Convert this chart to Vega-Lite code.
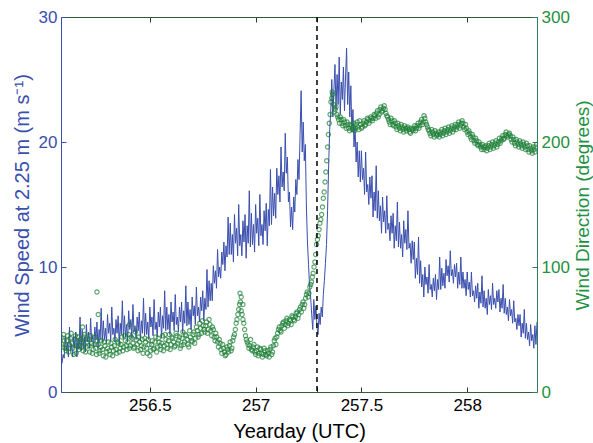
{
"$schema": "https://vega.github.io/schema/vega-lite/v6.json",
"autosize": "none",
"width": 476,
"height": 375,
"padding": {"left": 61, "top": 17, "right": 56, "bottom": 51},
"background": "white",
"config": {"font": "Liberation Sans", "view": {"stroke": null}, "axis": {"grid": false, "labelFont": "Liberation Sans", "titleFont": "Liberation Sans", "titleFontWeight": "normal"}},
"datasets": {
"speed": [
{"day":256.080,"speed":2.4},{"day":256.085,"speed":2.3},{"day":256.090,"speed":3.0},{"day":256.095,"speed":2.7},{"day":256.100,"speed":4.5},{"day":256.105,"speed":3.3},{"day":256.110,"speed":4.0},{"day":256.115,"speed":2.8},{"day":256.120,"speed":5.2},{"day":256.125,"speed":3.3},{"day":256.130,"speed":3.8},{"day":256.135,"speed":2.8},{"day":256.140,"speed":4.5},{"day":256.145,"speed":3.5},{"day":256.150,"speed":4.8},{"day":256.155,"speed":2.8},{"day":256.160,"speed":4.3},{"day":256.165,"speed":3.4},{"day":256.170,"speed":6.0},{"day":256.175,"speed":3.3},
{"day":256.180,"speed":5.0},{"day":256.185,"speed":3.5},{"day":256.190,"speed":4.4},{"day":256.195,"speed":3.2},{"day":256.200,"speed":5.4},{"day":256.205,"speed":4.0},{"day":256.210,"speed":4.8},{"day":256.215,"speed":3.5},{"day":256.220,"speed":5.9},{"day":256.225,"speed":4.0},{"day":256.230,"speed":4.5},{"day":256.235,"speed":3.6},{"day":256.240,"speed":5.2},{"day":256.245,"speed":4.2},{"day":256.250,"speed":5.6},{"day":256.255,"speed":3.5},{"day":256.260,"speed":5.0},{"day":256.265,"speed":4.2},{"day":256.270,"speed":6.7},{"day":256.275,"speed":4.0},
{"day":256.280,"speed":5.7},{"day":256.285,"speed":4.2},{"day":256.290,"speed":5.1},{"day":256.295,"speed":3.9},{"day":256.300,"speed":6.2},{"day":256.305,"speed":4.7},{"day":256.310,"speed":5.5},{"day":256.315,"speed":4.1},{"day":256.320,"speed":6.8},{"day":256.325,"speed":4.6},{"day":256.330,"speed":5.1},{"day":256.335,"speed":4.0},{"day":256.340,"speed":5.8},{"day":256.345,"speed":4.7},{"day":256.350,"speed":6.1},{"day":256.355,"speed":3.8},{"day":256.360,"speed":5.5},{"day":256.365,"speed":4.6},{"day":256.370,"speed":7.3},{"day":256.375,"speed":4.3},
{"day":256.380,"speed":6.1},{"day":256.385,"speed":4.4},{"day":256.390,"speed":5.4},{"day":256.395,"speed":4.0},{"day":256.400,"speed":6.5},{"day":256.405,"speed":5.0},{"day":256.410,"speed":5.8},{"day":256.415,"speed":4.3},{"day":256.420,"speed":7.0},{"day":256.425,"speed":4.8},{"day":256.430,"speed":5.3},{"day":256.435,"speed":4.2},{"day":256.440,"speed":6.0},{"day":256.445,"speed":4.9},{"day":256.450,"speed":6.4},{"day":256.455,"speed":4.1},{"day":256.460,"speed":5.7},{"day":256.465,"speed":4.7},{"day":256.470,"speed":7.5},{"day":256.475,"speed":4.5},
{"day":256.480,"speed":6.3},{"day":256.485,"speed":4.6},{"day":256.490,"speed":5.6},{"day":256.495,"speed":4.2},{"day":256.500,"speed":6.8},{"day":256.505,"speed":5.2},{"day":256.510,"speed":6.0},{"day":256.515,"speed":4.5},{"day":256.520,"speed":7.4},{"day":256.525,"speed":5.0},{"day":256.530,"speed":5.6},{"day":256.535,"speed":4.4},{"day":256.540,"speed":6.4},{"day":256.545,"speed":5.2},{"day":256.550,"speed":6.8},{"day":256.555,"speed":4.3},{"day":256.560,"speed":6.1},{"day":256.565,"speed":5.1},{"day":256.570,"speed":8.1},{"day":256.575,"speed":4.9},
{"day":256.580,"speed":6.8},{"day":256.585,"speed":5.0},{"day":256.590,"speed":6.2},{"day":256.595,"speed":4.6},{"day":256.600,"speed":7.2},{"day":256.605,"speed":5.6},{"day":256.610,"speed":6.4},{"day":256.615,"speed":4.9},{"day":256.620,"speed":7.8},{"day":256.625,"speed":5.4},{"day":256.630,"speed":6.0},{"day":256.635,"speed":4.8},{"day":256.640,"speed":6.8},{"day":256.645,"speed":5.6},{"day":256.650,"speed":7.2},{"day":256.655,"speed":4.7},{"day":256.660,"speed":6.5},{"day":256.665,"speed":5.5},{"day":256.670,"speed":8.5},{"day":256.675,"speed":5.3},
{"day":256.680,"speed":7.2},{"day":256.685,"speed":5.4},{"day":256.690,"speed":6.6},{"day":256.695,"speed":5.0},{"day":256.700,"speed":7.6},{"day":256.705,"speed":6.1},{"day":256.710,"speed":6.9},{"day":256.715,"speed":5.4},{"day":256.720,"speed":8.4},{"day":256.725,"speed":6.1},{"day":256.730,"speed":6.8},{"day":256.735,"speed":5.6},{"day":256.740,"speed":7.6},{"day":256.745,"speed":6.5},{"day":256.750,"speed":8.1},{"day":256.755,"speed":5.7},{"day":256.760,"speed":7.5},{"day":256.765,"speed":6.6},{"day":256.770,"speed":9.8},{"day":256.775,"speed":6.8},
{"day":256.780,"speed":8.9},{"day":256.785,"speed":7.3},{"day":256.790,"speed":8.7},{"day":256.795,"speed":7.3},{"day":256.800,"speed":10.1},{"day":256.805,"speed":8.7},{"day":256.810,"speed":9.7},{"day":256.815,"speed":8.3},{"day":256.820,"speed":11.4},{"day":256.825,"speed":9.2},{"day":256.830,"speed":10.0},{"day":256.835,"speed":9.1},{"day":256.840,"speed":11.2},{"day":256.845,"speed":10.2},{"day":256.850,"speed":12.0},{"day":256.855,"speed":9.7},{"day":256.860,"speed":11.7},{"day":256.865,"speed":10.8},{"day":256.870,"speed":14.0},{"day":256.875,"speed":11.0},
{"day":256.880,"speed":13.5},{"day":256.885,"speed":11.0},{"day":256.890,"speed":12.6},{"day":256.895,"speed":10.4},{"day":256.900,"speed":14.2},{"day":256.905,"speed":11.9},{"day":256.910,"speed":13.1},{"day":256.915,"speed":10.9},{"day":256.920,"speed":15.0},{"day":256.925,"speed":11.7},{"day":256.930,"speed":12.6},{"day":256.935,"speed":10.9},{"day":256.940,"speed":13.7},{"day":256.945,"speed":12.0},{"day":256.950,"speed":14.2},{"day":256.955,"speed":10.7},{"day":256.960,"speed":13.3},{"day":256.965,"speed":11.9},{"day":256.970,"speed":16.1},{"day":256.975,"speed":11.6},
{"day":256.980,"speed":14.3},{"day":256.985,"speed":11.8},{"day":256.990,"speed":13.4},{"day":256.995,"speed":11.2},{"day":257.000,"speed":15.0},{"day":257.005,"speed":12.7},{"day":257.010,"speed":13.9},{"day":257.015,"speed":11.7},{"day":257.020,"speed":15.8},{"day":257.025,"speed":12.5},{"day":257.030,"speed":13.4},{"day":257.035,"speed":11.8},{"day":257.040,"speed":14.5},{"day":257.045,"speed":12.9},{"day":257.050,"speed":15.1},{"day":257.055,"speed":11.7},{"day":257.060,"speed":14.6},{"day":257.065,"speed":13.3},{"day":257.070,"speed":17.8},{"day":257.075,"speed":13.4},
{"day":257.080,"speed":16.4},{"day":257.085,"speed":14.1},{"day":257.090,"speed":15.9},{"day":257.095,"speed":13.9},{"day":257.100,"speed":17.9},{"day":257.105,"speed":15.8},{"day":257.110,"speed":17.3},{"day":257.115,"speed":15.2},{"day":257.120,"speed":19.6},{"day":257.125,"speed":16.4},{"day":257.130,"speed":17.6},{"day":257.135,"speed":16.1},{"day":257.140,"speed":20.7},{"day":257.145,"speed":17.5},{"day":257.150,"speed":18.8},{"day":257.155,"speed":15.2},{"day":257.160,"speed":16.0},{"day":257.165,"speed":13.2},{"day":257.170,"speed":14.8},{"day":257.175,"speed":13.0},
{"day":257.180,"speed":15.6},{"day":257.185,"speed":14.4},{"day":257.190,"speed":17.0},{"day":257.195,"speed":15.8},{"day":257.200,"speed":18.6},{"day":257.205,"speed":17.0},{"day":257.210,"speed":20.5},{"day":257.215,"speed":24.1},{"day":257.220,"speed":19.2},{"day":257.225,"speed":21.6},{"day":257.230,"speed":18.5},{"day":257.235,"speed":19.8},{"day":257.240,"speed":14.8},{"day":257.245,"speed":12.0},{"day":257.250,"speed":10.2},{"day":257.255,"speed":8.5},{"day":257.260,"speed":7.6},{"day":257.265,"speed":6.2},{"day":257.270,"speed":5.0},{"day":257.275,"speed":7.4},
{"day":257.280,"speed":5.8},{"day":257.285,"speed":6.9},{"day":257.290,"speed":5.2},{"day":257.295,"speed":4.6},{"day":257.300,"speed":6.3},{"day":257.305,"speed":5.4},{"day":257.310,"speed":6.8},{"day":257.315,"speed":6.0},{"day":257.320,"speed":7.8},{"day":257.325,"speed":8.9},{"day":257.330,"speed":10.3},{"day":257.335,"speed":11.8},{"day":257.340,"speed":14.5},{"day":257.345,"speed":18.0},{"day":257.350,"speed":21.0},{"day":257.355,"speed":22.4},{"day":257.360,"speed":25.0},{"day":257.365,"speed":22.0},{"day":257.370,"speed":24.2},{"day":257.375,"speed":26.2},
{"day":257.380,"speed":22.6},{"day":257.385,"speed":25.4},{"day":257.390,"speed":23.0},{"day":257.395,"speed":26.8},{"day":257.400,"speed":22.2},{"day":257.405,"speed":24.8},{"day":257.410,"speed":23.4},{"day":257.415,"speed":26.0},{"day":257.420,"speed":22.5},{"day":257.425,"speed":25.2},{"day":257.430,"speed":27.5},{"day":257.435,"speed":23.0},{"day":257.440,"speed":25.6},{"day":257.445,"speed":22.0},{"day":257.450,"speed":24.5},{"day":257.455,"speed":20.8},{"day":257.460,"speed":22.6},{"day":257.465,"speed":19.6},{"day":257.470,"speed":21.2},{"day":257.475,"speed":18.4},
{"day":257.480,"speed":20.0},{"day":257.485,"speed":17.2},{"day":257.490,"speed":19.3},{"day":257.495,"speed":16.8},{"day":257.500,"speed":19.3},{"day":257.505,"speed":17.0},{"day":257.510,"speed":17.9},{"day":257.515,"speed":15.8},{"day":257.520,"speed":19.2},{"day":257.525,"speed":16.0},{"day":257.530,"speed":16.6},{"day":257.535,"speed":15.0},{"day":257.540,"speed":17.2},{"day":257.545,"speed":15.5},{"day":257.550,"speed":17.3},{"day":257.555,"speed":14.0},{"day":257.560,"speed":16.0},{"day":257.565,"speed":14.5},{"day":257.570,"speed":18.1},{"day":257.575,"speed":13.9},
{"day":257.580,"speed":16.1},{"day":257.585,"speed":13.7},{"day":257.590,"speed":14.9},{"day":257.595,"speed":12.7},{"day":257.600,"speed":15.6},{"day":257.605,"speed":13.6},{"day":257.610,"speed":14.5},{"day":257.615,"speed":12.7},{"day":257.620,"speed":15.7},{"day":257.625,"speed":13.0},{"day":257.630,"speed":13.5},{"day":257.635,"speed":12.1},{"day":257.640,"speed":14.1},{"day":257.645,"speed":12.7},{"day":257.650,"speed":14.3},{"day":257.655,"speed":11.5},{"day":257.660,"speed":13.3},{"day":257.665,"speed":12.1},{"day":257.670,"speed":15.2},{"day":257.675,"speed":11.6},
{"day":257.680,"speed":13.6},{"day":257.685,"speed":11.5},{"day":257.690,"speed":12.6},{"day":257.695,"speed":10.8},{"day":257.700,"speed":13.7},{"day":257.705,"speed":11.9},{"day":257.710,"speed":13.0},{"day":257.715,"speed":11.4},{"day":257.720,"speed":14.5},{"day":257.725,"speed":11.5},{"day":257.730,"speed":11.9},{"day":257.735,"speed":10.3},{"day":257.740,"speed":12.1},{"day":257.745,"speed":10.6},{"day":257.750,"speed":12.0},{"day":257.755,"speed":9.1},{"day":257.760,"speed":10.7},{"day":257.765,"speed":9.4},{"day":257.770,"speed":12.4},{"day":257.775,"speed":8.7},
{"day":257.780,"speed":10.5},{"day":257.785,"speed":8.4},{"day":257.790,"speed":9.4},{"day":257.795,"speed":7.6},{"day":257.800,"speed":10.0},{"day":257.805,"speed":8.6},{"day":257.810,"speed":9.2},{"day":257.815,"speed":7.9},{"day":257.820,"speed":10.2},{"day":257.825,"speed":8.2},{"day":257.830,"speed":8.6},{"day":257.835,"speed":7.6},{"day":257.840,"speed":9.1},{"day":257.845,"speed":8.1},{"day":257.850,"speed":9.4},{"day":257.855,"speed":7.4},{"day":257.860,"speed":9.0},{"day":257.865,"speed":8.2},{"day":257.870,"speed":10.8},{"day":257.875,"speed":8.2},
{"day":257.880,"speed":9.9},{"day":257.885,"speed":8.5},{"day":257.890,"speed":9.5},{"day":257.895,"speed":8.3},{"day":257.900,"speed":10.6},{"day":257.905,"speed":9.3},{"day":257.910,"speed":10.1},{"day":257.915,"speed":8.8},{"day":257.920,"speed":11.3},{"day":257.925,"speed":9.3},{"day":257.930,"speed":9.8},{"day":257.935,"speed":8.7},{"day":257.940,"speed":10.2},{"day":257.945,"speed":9.2},{"day":257.950,"speed":10.3},{"day":257.955,"speed":8.3},{"day":257.960,"speed":9.6},{"day":257.965,"speed":8.6},{"day":257.970,"speed":10.8},{"day":257.975,"speed":8.3},
{"day":257.980,"speed":9.6},{"day":257.985,"speed":8.3},{"day":257.990,"speed":9.0},{"day":257.995,"speed":7.7},{"day":258.000,"speed":9.6},{"day":258.005,"speed":8.2},{"day":258.010,"speed":8.8},{"day":258.015,"speed":7.6},{"day":258.020,"speed":9.6},{"day":258.025,"speed":7.7},{"day":258.030,"speed":8.1},{"day":258.035,"speed":7.2},{"day":258.040,"speed":8.5},{"day":258.045,"speed":7.5},{"day":258.050,"speed":8.7},{"day":258.055,"speed":6.7},{"day":258.060,"speed":8.0},{"day":258.065,"speed":7.1},{"day":258.070,"speed":9.3},{"day":258.075,"speed":6.8},
{"day":258.080,"speed":8.1},{"day":258.085,"speed":6.7},{"day":258.090,"speed":7.5},{"day":258.095,"speed":6.2},{"day":258.100,"speed":8.2},{"day":258.105,"speed":7.0},{"day":258.110,"speed":7.7},{"day":258.115,"speed":6.6},{"day":258.120,"speed":8.7},{"day":258.125,"speed":7.0},{"day":258.130,"speed":7.5},{"day":258.135,"speed":6.7},{"day":258.140,"speed":8.1},{"day":258.145,"speed":7.2},{"day":258.150,"speed":8.2},{"day":258.155,"speed":6.4},{"day":258.160,"speed":7.5},{"day":258.165,"speed":6.7},{"day":258.170,"speed":8.6},{"day":258.175,"speed":6.3},
{"day":258.180,"speed":7.5},{"day":258.185,"speed":6.2},{"day":258.190,"speed":6.8},{"day":258.195,"speed":5.7},{"day":258.200,"speed":7.4},{"day":258.205,"speed":6.1},{"day":258.210,"speed":6.6},{"day":258.215,"speed":5.5},{"day":258.220,"speed":7.3},{"day":258.225,"speed":5.6},{"day":258.230,"speed":5.9},{"day":258.235,"speed":5.0},{"day":258.240,"speed":6.2},{"day":258.245,"speed":5.3},{"day":258.250,"speed":6.2},{"day":258.255,"speed":4.4},{"day":258.260,"speed":5.5},{"day":258.265,"speed":4.7},{"day":258.270,"speed":6.6},{"day":258.275,"speed":4.3},
{"day":258.280,"speed":5.5},{"day":258.285,"speed":4.2},{"day":258.290,"speed":4.8},{"day":258.295,"speed":3.7},{"day":258.300,"speed":5.4},{"day":258.305,"speed":4.1},{"day":258.310,"speed":4.6},{"day":258.315,"speed":3.5},{"day":258.320,"speed":5.3},{"day":258.325,"speed":3.8},{"day":258.330,"speed":5.6}
],
"direction": [
{"day":256.080,"dir":44},{"day":256.088,"dir":36},{"day":256.096,"dir":41},{"day":256.104,"dir":33},{"day":256.112,"dir":45},{"day":256.120,"dir":38},{"day":256.128,"dir":47},{"day":256.136,"dir":35},{"day":256.144,"dir":42},{"day":256.152,"dir":31},{"day":256.160,"dir":44},{"day":256.168,"dir":37},{"day":256.176,"dir":40},{"day":256.184,"dir":33},{"day":256.192,"dir":46},{"day":256.200,"dir":36},{"day":256.208,"dir":42},{"day":256.216,"dir":32},{"day":256.224,"dir":39},{"day":256.232,"dir":34},{"day":256.240,"dir":44},{"day":256.248,"dir":30},{"day":256.256,"dir":38},{"day":256.264,"dir":33},{"day":256.272,"dir":41},{"day":256.280,"dir":29},{"day":256.288,"dir":37},{"day":256.296,"dir":32},{"day":256.304,"dir":40},{"day":256.312,"dir":30},{"day":256.320,"dir":36},{"day":256.328,"dir":33},{"day":256.336,"dir":42},{"day":256.344,"dir":31},{"day":256.352,"dir":39},{"day":256.360,"dir":35},{"day":256.368,"dir":44},{"day":256.376,"dir":36},{"day":256.384,"dir":41},{"day":256.392,"dir":34},{"day":256.400,"dir":46},{"day":256.408,"dir":37},{"day":256.416,"dir":43},{"day":256.424,"dir":35},{"day":256.432,"dir":48},{"day":256.440,"dir":38},{"day":256.448,"dir":44},{"day":256.456,"dir":34},{"day":256.464,"dir":42},{"day":256.472,"dir":36},{"day":256.480,"dir":40},{"day":256.488,"dir":31},{"day":256.496,"dir":38},{"day":256.504,"dir":33},{"day":256.512,"dir":41},{"day":256.520,"dir":35},{"day":256.528,"dir":44},{"day":256.536,"dir":36},{"day":256.544,"dir":40},{"day":256.552,"dir":34},{"day":256.560,"dir":45},{"day":256.568,"dir":37},{"day":256.576,"dir":42},{"day":256.584,"dir":35},{"day":256.592,"dir":46},{"day":256.600,"dir":38},{"day":256.608,"dir":43},{"day":256.616,"dir":36},{"day":256.624,"dir":47},{"day":256.632,"dir":39},{"day":256.640,"dir":44},{"day":256.648,"dir":37},{"day":256.656,"dir":48},{"day":256.664,"dir":40},{"day":256.672,"dir":45},{"day":256.680,"dir":38},{"day":256.688,"dir":49},{"day":256.696,"dir":41},{"day":256.704,"dir":46},{"day":256.712,"dir":39},{"day":256.720,"dir":52},{"day":256.728,"dir":44},{"day":256.736,"dir":55},{"day":256.744,"dir":47},{"day":256.752,"dir":53},{"day":256.760,"dir":48},{"day":256.768,"dir":56},{"day":256.776,"dir":50},{"day":256.784,"dir":54},{"day":256.792,"dir":45},{"day":256.800,"dir":50},{"day":256.808,"dir":41},{"day":256.816,"dir":44},{"day":256.824,"dir":36},{"day":256.832,"dir":39},{"day":256.840,"dir":31},{"day":256.848,"dir":35},{"day":256.856,"dir":29},{"day":256.864,"dir":36},{"day":256.872,"dir":32},{"day":256.880,"dir":40},{"day":256.888,"dir":35},{"day":256.896,"dir":44},{"day":256.904,"dir":50},{"day":256.912,"dir":58},{"day":256.920,"dir":66},{"day":256.928,"dir":72},{"day":256.936,"dir":62},{"day":256.944,"dir":55},{"day":256.952,"dir":45},{"day":256.960,"dir":40},{"day":256.968,"dir":35},{"day":256.976,"dir":42},{"day":256.984,"dir":33},{"day":256.992,"dir":38},{"day":257.000,"dir":30},{"day":257.008,"dir":36},{"day":257.016,"dir":31},{"day":257.024,"dir":34},{"day":257.032,"dir":28},{"day":257.040,"dir":35},{"day":257.048,"dir":30},{"day":257.056,"dir":33},{"day":257.064,"dir":28},{"day":257.072,"dir":36},{"day":257.080,"dir":32},{"day":257.088,"dir":41},{"day":257.096,"dir":38},{"day":257.104,"dir":47},{"day":257.112,"dir":52},{"day":257.120,"dir":48},{"day":257.128,"dir":55},{"day":257.136,"dir":51},{"day":257.144,"dir":57},{"day":257.152,"dir":53},{"day":257.160,"dir":58},{"day":257.168,"dir":54},{"day":257.176,"dir":60},{"day":257.184,"dir":57},{"day":257.192,"dir":63},{"day":257.200,"dir":59},{"day":257.208,"dir":66},{"day":257.216,"dir":64},{"day":257.224,"dir":72},{"day":257.232,"dir":70},{"day":257.240,"dir":78},{"day":257.248,"dir":76},{"day":257.256,"dir":84},{"day":257.264,"dir":88},{"day":257.272,"dir":95},{"day":257.280,"dir":104},{"day":257.288,"dir":118},{"day":257.296,"dir":125},{"day":257.304,"dir":135},{"day":257.312,"dir":142},{"day":257.320,"dir":155},{"day":257.328,"dir":168},{"day":257.336,"dir":185},{"day":257.344,"dir":206},{"day":257.352,"dir":222},{"day":257.360,"dir":235},{"day":257.368,"dir":230},{"day":257.376,"dir":226},{"day":257.384,"dir":222},{"day":257.392,"dir":218},{"day":257.400,"dir":220},{"day":257.408,"dir":215},{"day":257.416,"dir":218},{"day":257.424,"dir":213},{"day":257.432,"dir":216},{"day":257.440,"dir":211},{"day":257.448,"dir":214},{"day":257.456,"dir":210},{"day":257.464,"dir":215},{"day":257.472,"dir":211},{"day":257.480,"dir":216},{"day":257.488,"dir":210},{"day":257.496,"dir":214},{"day":257.504,"dir":212},{"day":257.512,"dir":217},{"day":257.520,"dir":214},{"day":257.528,"dir":219},{"day":257.536,"dir":215},{"day":257.544,"dir":220},{"day":257.552,"dir":217},{"day":257.560,"dir":222},{"day":257.568,"dir":219},{"day":257.576,"dir":225},{"day":257.584,"dir":222},{"day":257.592,"dir":228},{"day":257.600,"dir":225},{"day":257.608,"dir":229},{"day":257.616,"dir":223},{"day":257.624,"dir":220},{"day":257.632,"dir":216},{"day":257.640,"dir":219},{"day":257.648,"dir":214},{"day":257.656,"dir":217},{"day":257.664,"dir":212},{"day":257.672,"dir":215},{"day":257.680,"dir":211},{"day":257.688,"dir":214},{"day":257.696,"dir":210},{"day":257.704,"dir":213},{"day":257.712,"dir":209},{"day":257.720,"dir":212},{"day":257.728,"dir":208},{"day":257.736,"dir":211},{"day":257.744,"dir":209},{"day":257.752,"dir":213},{"day":257.760,"dir":211},{"day":257.768,"dir":215},{"day":257.776,"dir":213},{"day":257.784,"dir":218},{"day":257.792,"dir":216},{"day":257.800,"dir":219},{"day":257.808,"dir":214},{"day":257.816,"dir":210},{"day":257.824,"dir":207},{"day":257.832,"dir":210},{"day":257.840,"dir":206},{"day":257.848,"dir":209},{"day":257.856,"dir":205},{"day":257.864,"dir":208},{"day":257.872,"dir":206},{"day":257.880,"dir":210},{"day":257.888,"dir":207},{"day":257.896,"dir":211},{"day":257.904,"dir":208},{"day":257.912,"dir":212},{"day":257.920,"dir":209},{"day":257.928,"dir":213},{"day":257.936,"dir":210},{"day":257.944,"dir":214},{"day":257.952,"dir":212},{"day":257.960,"dir":216},{"day":257.968,"dir":213},{"day":257.976,"dir":217},{"day":257.984,"dir":212},{"day":257.992,"dir":214},{"day":258.000,"dir":208},{"day":258.008,"dir":209},{"day":258.016,"dir":204},{"day":258.024,"dir":206},{"day":258.032,"dir":201},{"day":258.040,"dir":203},{"day":258.048,"dir":198},{"day":258.056,"dir":200},{"day":258.064,"dir":196},{"day":258.072,"dir":198},{"day":258.080,"dir":194},{"day":258.088,"dir":197},{"day":258.096,"dir":195},{"day":258.104,"dir":199},{"day":258.112,"dir":196},{"day":258.120,"dir":200},{"day":258.128,"dir":197},{"day":258.136,"dir":201},{"day":258.144,"dir":198},{"day":258.152,"dir":203},{"day":258.160,"dir":201},{"day":258.168,"dir":205},{"day":258.176,"dir":203},{"day":258.184,"dir":208},{"day":258.192,"dir":204},{"day":258.200,"dir":207},{"day":258.208,"dir":202},{"day":258.216,"dir":204},{"day":258.224,"dir":199},{"day":258.232,"dir":202},{"day":258.240,"dir":198},{"day":258.248,"dir":201},{"day":258.256,"dir":197},{"day":258.264,"dir":200},{"day":258.272,"dir":196},{"day":258.280,"dir":199},{"day":258.288,"dir":194},{"day":258.296,"dir":197},{"day":258.304,"dir":193},{"day":258.312,"dir":196},{"day":258.320,"dir":192},{"day":258.328,"dir":198},
{"day":256.250,"dir":80},{"day":256.256,"dir":62},{"day":256.182,"dir":52},{"day":256.404,"dir":54},{"day":256.926,"dir":79},{"day":256.932,"dir":76},{"day":256.940,"dir":70},{"day":257.362,"dir":240},{"day":257.356,"dir":232},
{"day":256.084,"dir":38},{"day":256.092,"dir":46},{"day":256.100,"dir":35},{"day":256.108,"dir":41},{"day":256.116,"dir":32},{"day":256.124,"dir":43},{"day":256.132,"dir":39},{"day":256.140,"dir":30},{"day":256.148,"dir":45},{"day":256.156,"dir":37},{"day":256.164,"dir":34},{"day":256.172,"dir":42},{"day":256.180,"dir":36},{"day":256.188,"dir":44},{"day":256.196,"dir":32},{"day":256.204,"dir":40},{"day":256.212,"dir":37},{"day":256.220,"dir":45},{"day":256.228,"dir":31},{"day":256.236,"dir":38},{"day":256.244,"dir":35},{"day":256.252,"dir":41},{"day":256.260,"dir":31},{"day":256.268,"dir":36},{"day":256.276,"dir":34},{"day":256.284,"dir":40},{"day":256.292,"dir":28},{"day":256.300,"dir":35},{"day":256.308,"dir":33},{"day":256.316,"dir":39},{"day":256.324,"dir":29},{"day":256.332,"dir":37},{"day":256.340,"dir":34},{"day":256.348,"dir":40},{"day":256.356,"dir":32},{"day":256.364,"dir":38},{"day":256.372,"dir":33},{"day":256.380,"dir":45},{"day":256.388,"dir":37},{"day":256.396,"dir":40},{"day":256.404,"dir":35},{"day":256.412,"dir":44},{"day":256.420,"dir":39},{"day":256.428,"dir":36},{"day":256.436,"dir":42},{"day":256.444,"dir":33},{"day":256.452,"dir":40},{"day":256.460,"dir":37},{"day":256.468,"dir":31},{"day":256.476,"dir":43},{"day":256.484,"dir":35},{"day":256.492,"dir":42},{"day":256.500,"dir":29},{"day":256.508,"dir":38},{"day":256.516,"dir":34},{"day":256.524,"dir":40},{"day":256.532,"dir":32},{"day":256.540,"dir":43},{"day":256.548,"dir":37},{"day":256.556,"dir":39},{"day":256.564,"dir":33},{"day":256.572,"dir":46},{"day":256.580,"dir":38},{"day":256.588,"dir":41},{"day":256.596,"dir":34},{"day":256.604,"dir":44},{"day":256.612,"dir":40},{"day":256.620,"dir":37},{"day":256.628,"dir":45},{"day":256.636,"dir":41},{"day":256.644,"dir":35},{"day":256.652,"dir":43},{"day":256.660,"dir":38},{"day":256.668,"dir":46},{"day":256.676,"dir":42},{"day":256.684,"dir":36},{"day":256.692,"dir":44},{"day":256.700,"dir":40},{"day":256.708,"dir":48},{"day":256.716,"dir":43},{"day":256.724,"dir":49},{"day":256.732,"dir":46},{"day":256.740,"dir":51},{"day":256.748,"dir":57},{"day":256.756,"dir":50},{"day":256.764,"dir":53},{"day":256.772,"dir":47},{"day":256.780,"dir":58},{"day":256.788,"dir":49},{"day":256.796,"dir":52},{"day":256.804,"dir":44},{"day":256.812,"dir":47},{"day":256.820,"dir":40},{"day":256.828,"dir":42},{"day":256.836,"dir":34},{"day":256.844,"dir":38},{"day":256.852,"dir":32},{"day":256.860,"dir":30},{"day":256.868,"dir":34},{"day":256.876,"dir":37},{"day":256.884,"dir":33},{"day":256.892,"dir":41},{"day":256.900,"dir":46},{"day":256.908,"dir":55},{"day":256.916,"dir":62},{"day":256.924,"dir":70},{"day":256.932,"dir":65},{"day":256.940,"dir":58},{"day":256.948,"dir":50},{"day":256.956,"dir":42},{"day":256.964,"dir":38},{"day":256.972,"dir":37},{"day":256.980,"dir":34},{"day":256.988,"dir":36},{"day":256.996,"dir":32},{"day":257.004,"dir":33},{"day":257.012,"dir":29},{"day":257.020,"dir":35},{"day":257.028,"dir":31},{"day":257.036,"dir":30},{"day":257.044,"dir":33},{"day":257.052,"dir":29},{"day":257.060,"dir":31},{"day":257.068,"dir":34},{"day":257.076,"dir":30},{"day":257.084,"dir":37},{"day":257.092,"dir":43},{"day":257.100,"dir":44},{"day":257.108,"dir":50},{"day":257.116,"dir":49},{"day":257.124,"dir":53},{"day":257.132,"dir":56},{"day":257.140,"dir":54},{"day":257.148,"dir":59},{"day":257.156,"dir":55},{"day":257.164,"dir":57},{"day":257.172,"dir":61},{"day":257.180,"dir":58},{"day":257.188,"dir":60},{"day":257.196,"dir":64},{"day":257.204,"dir":62},{"day":257.212,"dir":68},{"day":257.220,"dir":70},{"day":257.228,"dir":67},{"day":257.236,"dir":75},{"day":257.244,"dir":80},{"day":257.252,"dir":79},{"day":257.260,"dir":86},{"day":257.268,"dir":92},{"day":257.276,"dir":100},{"day":257.284,"dir":110},{"day":257.292,"dir":122},{"day":257.300,"dir":130},{"day":257.308,"dir":138},{"day":257.316,"dir":148},{"day":257.324,"dir":160},{"day":257.332,"dir":176},{"day":257.340,"dir":196},{"day":257.348,"dir":215},{"day":257.364,"dir":238},{"day":257.372,"dir":224},{"day":257.380,"dir":228},{"day":257.388,"dir":220},{"day":257.396,"dir":215},{"day":257.404,"dir":218},{"day":257.412,"dir":213},{"day":257.420,"dir":216},{"day":257.428,"dir":211},{"day":257.436,"dir":214},{"day":257.444,"dir":209},{"day":257.452,"dir":213},{"day":257.460,"dir":212},{"day":257.468,"dir":209},{"day":257.476,"dir":214},{"day":257.484,"dir":212},{"day":257.492,"dir":217},{"day":257.500,"dir":211},{"day":257.508,"dir":215},{"day":257.516,"dir":213},{"day":257.524,"dir":216},{"day":257.532,"dir":218},{"day":257.540,"dir":217},{"day":257.548,"dir":219},{"day":257.556,"dir":219},{"day":257.564,"dir":221},{"day":257.572,"dir":223},{"day":257.580,"dir":220},{"day":257.588,"dir":226},{"day":257.596,"dir":224},{"day":257.604,"dir":227},{"day":257.612,"dir":226},{"day":257.620,"dir":221},{"day":257.628,"dir":218},{"day":257.636,"dir":214},{"day":257.644,"dir":217},{"day":257.652,"dir":213},{"day":257.660,"dir":215},{"day":257.668,"dir":210},{"day":257.676,"dir":213},{"day":257.684,"dir":209},{"day":257.692,"dir":212},{"day":257.700,"dir":208},{"day":257.708,"dir":211},{"day":257.716,"dir":211},{"day":257.724,"dir":210},{"day":257.732,"dir":207},{"day":257.740,"dir":210},{"day":257.748,"dir":211},{"day":257.756,"dir":209},{"day":257.764,"dir":213},{"day":257.772,"dir":211},{"day":257.780,"dir":216},{"day":257.788,"dir":214},{"day":257.796,"dir":221},{"day":257.804,"dir":216},{"day":257.812,"dir":212},{"day":257.820,"dir":209},{"day":257.828,"dir":205},{"day":257.836,"dir":208},{"day":257.844,"dir":204},{"day":257.852,"dir":207},{"day":257.860,"dir":206},{"day":257.868,"dir":204},{"day":257.876,"dir":208},{"day":257.884,"dir":205},{"day":257.892,"dir":209},{"day":257.900,"dir":206},{"day":257.908,"dir":210},{"day":257.916,"dir":207},{"day":257.924,"dir":211},{"day":257.932,"dir":208},{"day":257.940,"dir":212},{"day":257.948,"dir":210},{"day":257.956,"dir":214},{"day":257.964,"dir":211},{"day":257.972,"dir":215},{"day":257.980,"dir":215},{"day":257.988,"dir":210},{"day":257.996,"dir":211},{"day":258.004,"dir":206},{"day":258.012,"dir":207},{"day":258.020,"dir":202},{"day":258.028,"dir":204},{"day":258.036,"dir":199},{"day":258.044,"dir":201},{"day":258.052,"dir":197},{"day":258.060,"dir":198},{"day":258.068,"dir":194},{"day":258.076,"dir":196},{"day":258.084,"dir":196},{"day":258.092,"dir":193},{"day":258.100,"dir":197},{"day":258.108,"dir":194},{"day":258.116,"dir":198},{"day":258.124,"dir":195},{"day":258.132,"dir":199},{"day":258.140,"dir":196},{"day":258.148,"dir":200},{"day":258.156,"dir":199},{"day":258.164,"dir":203},{"day":258.172,"dir":202},{"day":258.180,"dir":206},{"day":258.188,"dir":205},{"day":258.196,"dir":206},{"day":258.204,"dir":205},{"day":258.212,"dir":200},{"day":258.220,"dir":202},{"day":258.228,"dir":197},{"day":258.236,"dir":200},{"day":258.244,"dir":196},{"day":258.252,"dir":199},{"day":258.260,"dir":195},{"day":258.268,"dir":198},{"day":258.276,"dir":194},{"day":258.284,"dir":197},{"day":258.292,"dir":192},{"day":258.300,"dir":195},{"day":258.308,"dir":191},{"day":258.316,"dir":194},{"day":258.324,"dir":196}
],
"marker": [{"day": 257.29}]
},
"layer": [
{
"data": {"name": "speed"},
"mark": {"type": "line", "color": "#3a4fae", "strokeWidth": 1, "clip": true},
"encoding": {
"x": {"field": "day", "type": "quantitative", "scale": {"domain": [256.08, 258.33], "nice": false, "zero": false},
"axis": {"orient": "bottom", "values": [256.5, 257, 257.29, 257.5, 258], "labelExpr": "abs(datum.value - 257.29) < 0.001 ? '' : format(datum.value, '~g')", "tickSize": -5, "labelPadding": 10, "tickColor": "#333333", "domainColor": "#2f5d36", "labelColor": "#000000", "labelFontSize": 17, "title": "Yearday (UTC)", "titleFontSize": 20, "titleColor": "#000000", "titleX": 238, "titleY": 45, "titleAlign": "center", "titleBaseline": "alphabetic"}},
"y": {"field": "speed", "type": "quantitative", "scale": {"domain": [0, 30], "nice": false},
"axis": {"orient": "left", "values": [0, 10, 20, 30], "tickSize": -5, "labelPadding": 9, "tickColor": "#3a4fae", "domainColor": "#3a4fae", "labelColor": "#3a4fae", "labelFontSize": 17, "title": "Wind Speed at 2.25 m (m s⁻¹)", "titleFontSize": 20, "titleColor": "#3a4fae", "titleAngle": 270, "titleX": -33, "titleY": 188, "titleAlign": "center", "titleBaseline": "alphabetic"}}
}
},
{
"data": {"name": "direction"},
"mark": {"type": "point", "shape": "circle", "filled": false, "color": "#1c7f36", "size": 18, "strokeWidth": 1.1, "clip": true},
"encoding": {
"x": {"field": "day", "type": "quantitative", "scale": {"domain": [256.08, 258.33], "nice": false, "zero": false},
"axis": {"orient": "top", "values": [256.5, 257, 257.29, 257.5, 258], "labels": false, "tickSize": -5, "tickColor": "#333333", "domainColor": "#2f5d36", "title": null}},
"y": {"field": "dir", "type": "quantitative", "scale": {"domain": [0, 300], "nice": false},
"axis": {"orient": "right", "values": [0, 100, 200, 300], "tickSize": -5, "labelPadding": 9, "tickColor": "#2e7d5e", "domainColor": "#2e7d5e", "labelColor": "#1f9140", "labelFontSize": 17, "title": "Wind Direction (degrees)", "titleFontSize": 19, "titleColor": "#1f9140", "titleAngle": 270, "titleX": 51, "titleY": 188, "titleAlign": "center", "titleBaseline": "alphabetic"}}
}
},
{
"data": {"name": "marker"},
"mark": {"type": "rule", "color": "#000000", "strokeWidth": 1.5, "strokeDash": [5, 4]},
"encoding": {
"x": {"field": "day", "type": "quantitative", "axis": null}
}
}
],
"resolve": {"scale": {"y": "independent"}, "axis": {"x": "independent", "y": "independent"}}
}
